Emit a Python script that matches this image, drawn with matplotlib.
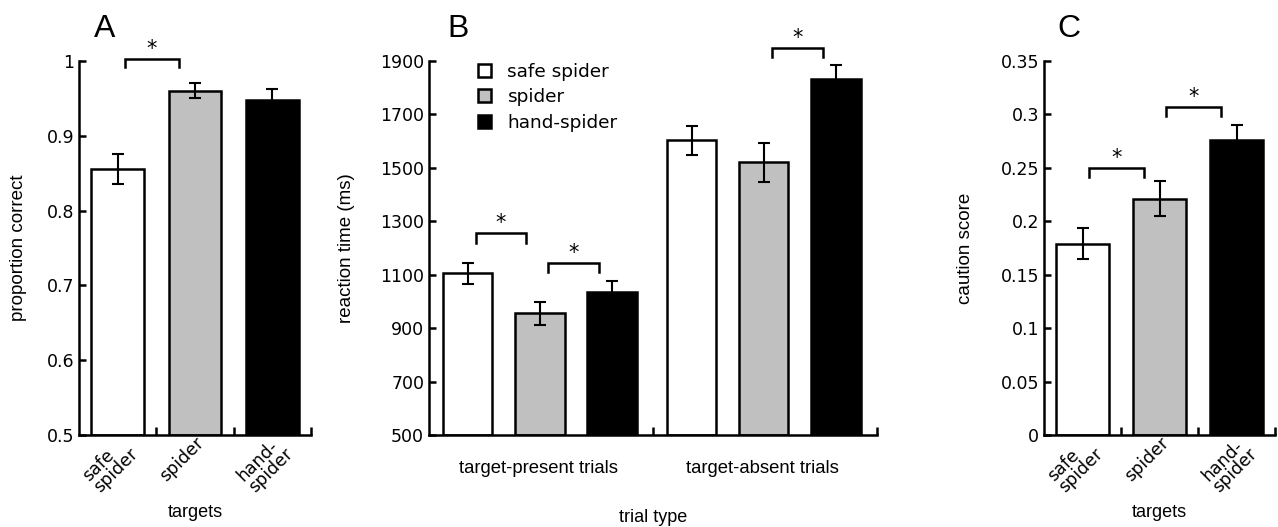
import numpy as np
import matplotlib.pyplot as plt
from matplotlib.patches import Patch
from matplotlib.ticker import FuncFormatter

# donnees
cibles = ['safe\nspider', 'spider', 'hand-\nspider']
noms_legende = ['safe spider', 'spider', 'hand-spider']
couleurs = ['white', '#c0c0c0', 'black']

# A : proportion correcte
prop_correct = [0.855, 0.960, 0.948]
prop_err = [0.020, 0.010, 0.014]

# B : temps de reaction (ms)
types_essai = ['target-present trials', 'target-absent trials']
rt_safe = [1105, 1603]
rt_spider = [955, 1521]
rt_hand = [1036, 1832]
rt_safe_err = [40, 55]
rt_spider_err = [43, 73]
rt_hand_err = [40, 52]

# C : score de prudence
caution = [0.179, 0.221, 0.276]
caution_err = [0.0145, 0.0165, 0.014]

# significativite : (barre1, barre2, hauteur, longueur des pattes)
sig_A = [(0, 1, 1.003, 0.011)]
sig_B = [((0, 0), (0, 1), 1255, 36), ((0, 1), (0, 2), 1143, 33), ((1, 1), (1, 2), 1950, 34)]
sig_C = [(0, 1, 0.250, 0.0085), (1, 2, 0.307, 0.0085)]

plt.rcParams['font.family'] = 'DejaVu Sans'
lw = 1.8

fig = plt.figure(figsize=(12.78, 5.27), dpi=100)
axA = fig.add_axes([0.0618, 0.1746, 0.1815, 0.7097])
axB = fig.add_axes([0.3357, 0.1746, 0.3505, 0.7097])
axC = fig.add_axes([0.8169, 0.1746, 0.1808, 0.7097])

fmt = FuncFormatter(lambda v, p: '%g' % round(v, 4))


def style_axe(ax):
    for s in ['top', 'right']:
        ax.spines[s].set_visible(False)
    for s in ['left', 'bottom']:
        ax.spines[s].set_linewidth(lw)
    ax.tick_params(axis='both', which='major', direction='in', width=lw, length=5, labelsize=12.5)
    ax.yaxis.set_major_formatter(fmt)


def accolade(ax, x1, x2, y, d):
    ax.plot([x1, x1, x2, x2], [y - d, y, y, y - d], color='black', lw=lw, clip_on=False,
            solid_joinstyle='miter')
    ax.text((x1 + x2) / 2, y, '*', ha='center', va='bottom', fontsize=15, clip_on=False)


def panneau_cibles(ax, valeurs, erreurs, ylim, yticks, ylabel, lettre, sigs, pad):
    x = np.arange(len(valeurs)) + 0.5
    ax.bar(x, [v - ylim[0] for v in valeurs], bottom=ylim[0], width=0.68, color=couleurs,
           edgecolor='black', linewidth=lw)
    ax.errorbar(x, valeurs, yerr=erreurs, fmt='none', ecolor='black', elinewidth=1.5,
                capsize=4, capthick=1.5)
    ax.set_xlim(0, 3)
    ax.set_ylim(*ylim)
    ax.set_yticks(yticks)
    ax.set_xticks([1, 2, 3])
    ax.set_xticklabels([])
    style_axe(ax)
    ax.tick_params(axis='x', length=6)
    for xi, lab in zip(x, cibles):
        ax.text(xi + 0.0, ylim[0] + 0.004 * (ylim[1] - ylim[0]), lab, rotation=45, ha='right', va='top',
                rotation_mode='anchor', multialignment='left', fontsize=12.5, linespacing=0.85)
    ax.set_xlabel('targets', fontsize=13, family='Liberation Sans', labelpad=46)
    ax.set_ylabel(ylabel, fontsize=13.5, family='Liberation Sans', labelpad=pad)
    ax.text(0.11, 1.085, lettre, transform=ax.transAxes, fontsize=23, family='Liberation Sans',
            ha='center', va='center')
    for i, j, h, d in sigs:
        accolade(ax, x[i] + 0.09, x[j] - 0.2, h, d)


panneau_cibles(axA, prop_correct, prop_err, (0.5, 1.0), np.arange(0.5, 1.01, 0.1),
               'proportion correct', 'A', sig_A, 14)
panneau_cibles(axC, caution, caution_err, (0, 0.35), np.arange(0, 0.351, 0.05),
               'caution score', 'C', sig_C, 19)

# B
groupes = np.arange(len(types_essai))
decal = [-0.322, 0.0, 0.322]
series = [rt_safe, rt_spider, rt_hand]
erreurs_B = [rt_safe_err, rt_spider_err, rt_hand_err]
pos = []
for k in range(3):
    xs = groupes + 0.495 + decal[k]
    pos.append(xs)
    axB.bar(xs, [v - 500 for v in series[k]], bottom=500, width=0.22, color=couleurs[k],
            edgecolor='black', linewidth=lw)
    axB.errorbar(xs, series[k], yerr=erreurs_B[k], fmt='none', ecolor='black', elinewidth=1.5,
                 capsize=4, capthick=1.5)
axB.set_xlim(0, 2)
axB.set_ylim(500, 1900)
axB.set_yticks(np.arange(500, 1901, 200))
axB.set_xticks([1, 2])
axB.set_xticklabels([])
style_axe(axB)
axB.tick_params(axis='x', length=6)
for g, lab in zip(groupes, types_essai):
    axB.text(g + 0.49, 408, lab, ha='center', va='top', fontsize=13.3, family='Liberation Sans')
axB.set_xlabel('trial type', fontsize=13, family='Liberation Sans', labelpad=50)
axB.set_ylabel('reaction time (ms)', fontsize=13.5, family='Liberation Sans', labelpad=18)
axB.text(0.065, 1.085, 'B', transform=axB.transAxes, fontsize=23, family='Liberation Sans',
         ha='center', va='center')
for (g1, k1), (g2, k2), h, d in sig_B:
    accolade(axB, pos[k1][g1] + 0.035, pos[k2][g2] - 0.06, h, d)

poignees = [Patch(facecolor=c, edgecolor='black', linewidth=lw) for c in couleurs]
axB.legend(poignees, noms_legende, loc='upper left', bbox_to_anchor=(0.072, 1.04), frameon=False,
           handlelength=0.7, handleheight=0.7, handletextpad=0.9, labelspacing=0.42, fontsize=13.3)

fig.savefig('out.png', dpi=100)
